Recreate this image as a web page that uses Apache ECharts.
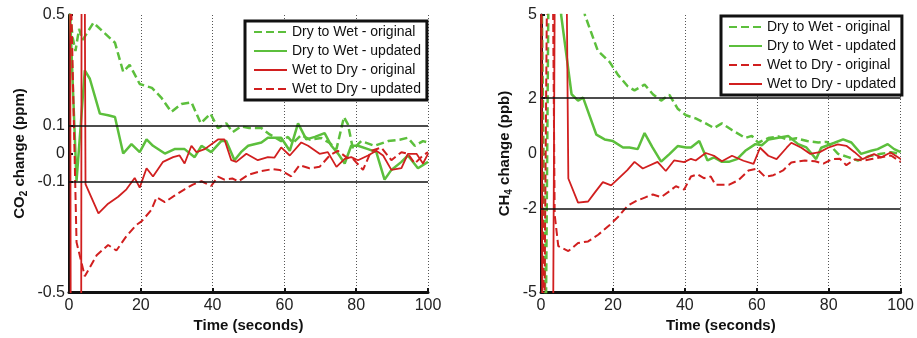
<!DOCTYPE html>
<html>
<head>
<meta charset="utf-8">
<script src="https://cdn.jsdelivr.net/npm/echarts@6/dist/echarts.min.js"></script>
<style>
html,body{margin:0;padding:0;background:#fff;}
#chart{width:917px;height:338px;}
</style>
</head>
<body>
<div id="chart"></div>
<script>
// ---------- data ----------
const xTicks = [0, 20, 40, 60, 80, 100];
const co2TickLabels = [-0.5, -0.1, 0, 0.1, 0.5];
const ch4TickLabels = [-5, -2, 0, 2, 5];
const co2Limits = [0.1, -0.1];
const ch4Limits = [2, -2];

const legendCO2 = ['Dry to Wet - original', 'Dry to Wet - updated', 'Wet to Dry - original', 'Wet to Dry - updated'];
const legendCH4 = ['Dry to Wet - original', 'Dry to Wet - updated', 'Wet to Dry - original', 'Wet to Dry - updated'];

// CO2 panel (ppm)
const co2DryWetOriginal = [[0,0.55],[1,0.42],[1.8,0.37],[2.8,0.45],[3.8,0.41],[6.8,0.472],[12.8,0.40],[15.1,0.295],[16.9,0.32],[19.7,0.251],[23.1,0.237],[25.7,0.202],[28.5,0.15],[31.3,0.179],[34.1,0.185],[36.7,0.109],[39.4,0.144],[41.5,0.092],[43.8,0.109],[45.6,0.077],[47.9,0.098],[50.2,0.092],[53.6,0.092],[55.9,0.069],[59.1,0.045],[61.0,0.06],[62.4,0.038],[64.7,0.067],[67.1,0.05],[70.3,0.056],[72.6,0.038],[74.5,0.016],[76.6,0.132],[77.7,0.105],[79.1,0.016],[81.4,0.045],[85.1,0.028],[88.9,0.045],[92.1,0.05],[94.4,0.057],[96.3,0.028],[98.6,0.045],[100,0.04]];
const co2DryWetUpdated = [[0,0.6],[2.1,-0.1],[4.4,0.30],[5.8,0.27],[8.6,0.144],[10.9,0.138],[12.8,0.132],[15.1,0.0],[17.4,0.034],[19.7,0.005],[21.6,0.051],[23.4,0.028],[26.7,0.0],[29.4,0.016],[32.2,0.016],[35,-0.013],[36.9,0.028],[39.6,0.005],[42.4,0.045],[43.8,0.045],[46.1,-0.024],[47.9,0.005],[49.9,0.028],[53.6,0.04],[55.4,0.057],[59.1,0.057],[61.5,0.01],[63.8,0.109],[66.1,0.051],[68.5,0.06],[71.2,0.074],[73.1,0.028],[75,-0.001],[76.8,-0.036],[78.6,0.028],[80.5,0.028],[83.3,0.016],[85.6,0.005],[87.9,-0.094],[89.8,-0.059],[92.6,-0.03],[94.4,-0.007],[97.2,-0.053],[100,-0.03]];
const co2WetDryOriginal = [[0,3],[0.8,-3],[3.2,-3],[3.7,3],[4.6,-0.11],[8.2,-0.216],[10.9,-0.181],[13.7,-0.156],[16,-0.129],[18.3,-0.088],[19.7,-0.123],[21.6,-0.053],[23.4,-0.083],[26.2,-0.03],[29,-0.013],[30.8,-0.007],[32.2,-0.036],[34.1,0.028],[35.5,0.005],[37.8,0.016],[41.5,0.051],[43.3,0.051],[45.2,-0.024],[46.6,-0.03],[49.4,-0.001],[52.6,-0.024],[55.4,-0.013],[57.2,-0.015],[59.1,0.022],[61.5,-0.007],[64.7,0.04],[66.6,0.028],[69.8,-0.001],[72.1,0.005],[74.5,-0.048],[76.8,-0.019],[78.6,-0.013],[80.5,-0.024],[83.3,-0.007],[85.6,0.01],[87.5,-0.007],[89.8,-0.059],[92.6,-0.053],[94.4,-0.001],[96.8,-0.001],[98.6,-0.036],[100,-0.001]];
const co2WetDryUpdated = [[0,0.9],[2.1,-0.32],[4.4,-0.443],[7.7,-0.367],[10.9,-0.33],[13.2,-0.35],[16,-0.298],[18.8,-0.257],[20.2,-0.245],[22.9,-0.204],[24.4,-0.158],[26.7,-0.175],[29.4,-0.152],[32.2,-0.129],[34.5,-0.112],[36.9,-0.1],[39.6,-0.117],[41.5,-0.083],[43.3,-0.094],[45.5,-0.09],[47.2,-0.1],[49.9,-0.077],[53.6,-0.063],[56.8,-0.056],[58.7,-0.059],[61.9,-0.082],[64.2,-0.042],[67,-0.053],[69.8,-0.048],[72.6,-0.007],[74.9,0.01],[77.2,-0.013],[79.1,-0.019],[81.9,-0.059],[84.2,0.01],[87,0.022],[89.8,-0.024],[92.6,0.005],[94.4,-0.001],[96.3,-0.036],[98.6,-0.007],[100,0.005]];

// CH4 panel (ppb)
const ch4DryWetOriginal = [[0,8],[1.3,-7],[2.2,8],[10,8],[12.2,5.0],[15.8,3.71],[19.1,3.3],[21.4,2.84],[24.1,2.43],[26,2.28],[28.8,2.49],[31.1,2.14],[33.4,1.91],[35.7,2.12],[38,1.62],[40.3,1.38],[43,1.27],[45.8,1.09],[48.1,0.92],[50.3,1.09],[53.1,0.85],[56.8,0.56],[58.6,0.64],[60.4,0.39],[63.2,0.56],[66,0.62],[68.5,0.5],[71,0.55],[74,0.45],[77.1,0.40],[79.5,0.42],[82.6,-0.01],[85.4,-0.13],[88.1,-0.25],[91,-0.1],[94.6,-0.01],[97.3,0.05],[100,-0.01]];
const ch4DryWetUpdated = [[0,8],[5,8],[5.6,5],[8.5,2.14],[10.3,1.91],[11.7,2.02],[15.4,0.68],[17.7,0.51],[20,0.45],[22.8,0.22],[24.6,0.22],[26.9,0.16],[28.8,0.74],[31,0.22],[33.4,-0.29],[35.7,-0.02],[38,0.27],[40.3,0.22],[41.7,0.22],[44,0.45],[46.3,-0.25],[48.1,-0.14],[50.3,-0.3],[52.2,-0.3],[54.5,-0.2],[56.8,0.1],[59.6,0.34],[61.4,0.3],[63.3,0.51],[66,0.57],[68.8,0.63],[71.5,0.34],[73.8,0.22],[76.5,-0.2],[77.9,0.21],[81.6,0.39],[84,0.51],[86.3,0.4],[89,-0.01],[91.8,0.1],[93.6,0.16],[96.4,0.34],[98.2,0.16],[100,0.05]];
const ch4WetDryOriginal = [[0,8],[0.8,-8],[1.8,8],[3.2,8],[3.8,-2.2],[4.8,-3.34],[7.6,-3.52],[10.3,-3.23],[13.1,-3.17],[15.9,-2.93],[19.1,-2.58],[21.4,-2.29],[24.1,-1.88],[26.5,-1.71],[29.2,-1.57],[31.1,-1.48],[33.4,-1.57],[35.7,-1.36],[37.5,-1.18],[39.8,-1.3],[41.7,-0.83],[43.5,-0.75],[45.3,-0.89],[47.2,-0.83],[48.5,-1.13],[52.2,-1.13],[54.9,-0.96],[57.7,-0.61],[60,-0.55],[62.3,-0.84],[64.6,-0.78],[67.3,-0.61],[69.6,-0.32],[73.4,-0.25],[76.2,-0.28],[78.5,-0.36],[81,-0.2],[83.1,-0.19],[84.9,-0.42],[87.2,-0.21],[90,-0.25],[92.3,-0.19],[94.6,-0.13],[97.3,-0.07],[100,-0.3]];
const ch4WetDryUpdated = [[0,8],[0.4,-8],[3.3,-8],[3.9,8],[7.0,8],[7.6,-0.9],[10.3,-1.77],[13.1,-1.73],[15,-1.4],[17.2,-1.03],[19.5,-1.15],[21.8,-0.87],[24,-0.6],[26,-0.3],[28.3,-0.54],[32.4,-0.3],[34.7,-0.63],[37,-0.25],[39.8,-0.31],[41.7,-0.19],[43,-0.25],[45.8,0.02],[48.1,-0.08],[50.3,-0.28],[53.1,-0.08],[56.3,-0.26],[59.1,-0.37],[60.9,0.21],[63.2,-0.08],[65.5,-0.2],[68.3,0.21],[69.6,0.39],[72.4,0.21],[74.8,-0.01],[77.5,0.05],[79.8,0.21],[82.5,0.33],[84.9,0.28],[87.2,0.05],[89.4,-0.2],[92.6,-0.02],[94.5,-0.14],[97.2,0.04],[100,-0.2]];

// ---------- styling ----------
const FONT = '"Liberation Sans", Arial, Helvetica, sans-serif';
const GREEN = '#5cbf3c';
const RED = '#d11f1f';
const DASH = [8, 4];

function xAxisDef(gridIndex) {
  return {
    type: 'value', gridIndex, min: 0, max: 100, interval: 20,
    name: 'Time (seconds)', nameLocation: 'middle', nameGap: 22,
    nameTextStyle: { fontFamily: FONT, fontSize: 15, fontWeight: 'bold', color: '#111' },
    axisLine: { show: true, onZero: false, lineStyle: { color: '#111', width: 3 } },
    axisTick: { show: true, inside: true, length: 4, lineStyle: { color: '#111', width: 2 } },
    axisLabel: { fontFamily: FONT, fontSize: 16, color: '#222', margin: 5 },
    splitLine: { show: true, lineStyle: { color: '#555', width: 1, type: [1, 2] } }
  };
}
function yAxisDef(gridIndex, min, max, interval, ticks, nameRich, nameGap) {
  return {
    type: 'value', gridIndex, min, max, interval,
    name: nameRich, nameLocation: 'middle', nameGap, nameRotate: 90,
    nameTextStyle: {
      fontFamily: FONT, fontSize: 15, fontWeight: 'bold', color: '#111',
      rich: {
        b: { fontFamily: FONT, fontSize: 15, fontWeight: 'bold', color: '#111' },
        s: { fontFamily: FONT, fontSize: 10, fontWeight: 'bold', color: '#111', padding: [8, 0, 0, 0] }
      }
    },
    axisLine: { show: true, onZero: false, lineStyle: { color: '#111', width: 3 } },
    axisTick: { show: true, inside: true, length: 4, customValues: ticks, lineStyle: { color: '#111', width: 2 } },
    axisLabel: { fontFamily: FONT, fontSize: 16, color: '#222', margin: 4, customValues: ticks },
    splitLine: { show: false }
  };
}
function lineSeries(name, data, xi, color, width, dashed, limits) {
  const s = {
    type: 'line', name, data, xAxisIndex: xi, yAxisIndex: xi,
    symbol: 'none', showSymbol: false, clip: true, animation: false,
    lineStyle: { color, width, type: dashed ? DASH : 'solid' },
    itemStyle: { color }
  };
  if (limits) {
    s.markLine = {
      silent: true, symbol: ['none', 'none'], animation: false,
      label: { show: false },
      lineStyle: { color: '#111', width: 1.5, type: 'solid' },
      data: limits.map(v => ({ yAxis: v }))
    };
  }
  return s;
}
function legendDef(left, top, names, pad) {
  return {
    orient: 'vertical', left, top,
    itemWidth: 33, itemHeight: 14, itemGap: 5,
    padding: pad,
    borderColor: '#111', borderWidth: 3, backgroundColor: '#fff',
    itemStyle: { opacity: 0 },
    textStyle: { fontFamily: FONT, fontSize: 14, color: '#111' },
    formatter: n => n.replace(/^[ab]:/, ''),
    data: names
  };
}

const chart = echarts.init(document.getElementById('chart'), null, { renderer: 'canvas' });
chart.setOption({
  animation: false,
  backgroundColor: '#fff',
  grid: [
    { left: 69, top: 15, width: 359, height: 285, containLabel: false },
    { left: 541, top: 15, width: 362, height: 285, containLabel: false }
  ],
  xAxis: [xAxisDef(0), xAxisDef(1)],
  yAxis: [
    yAxisDef(0, -0.5, 0.5, 0.1, co2TickLabels, '{b|CO}{s|2}{b| change (ppm)}', 40),
    yAxisDef(1, -5, 5, 1, ch4TickLabels, '{b|CH}{s|4}{b| change (ppb)}', 27)
  ],
  legend: [
    legendDef(245, 21, legendCO2.map(n => 'a:' + n), [4, 6, 4, 8]),
    legendDef(721, 16, legendCH4.map(n => 'b:' + n), [4, 6, 4, 7])
  ],
  series: [
    lineSeries('a:' + legendCO2[0], co2DryWetOriginal, 0, GREEN, 2.5, true, co2Limits),
    lineSeries('a:' + legendCO2[1], co2DryWetUpdated, 0, GREEN, 2.5, false),
    lineSeries('a:' + legendCO2[2], co2WetDryOriginal, 0, RED, 1.8, false),
    lineSeries('a:' + legendCO2[3], co2WetDryUpdated, 0, RED, 2, true),
    lineSeries('b:' + legendCH4[0], ch4DryWetOriginal, 1, GREEN, 2.5, true, ch4Limits),
    lineSeries('b:' + legendCH4[1], ch4DryWetUpdated, 1, GREEN, 2.5, false),
    lineSeries('b:' + legendCH4[2], ch4WetDryOriginal, 1, RED, 2, true),
    lineSeries('b:' + legendCH4[3], ch4WetDryUpdated, 1, RED, 1.8, false)
  ]
});
</script>
</body>
</html>
